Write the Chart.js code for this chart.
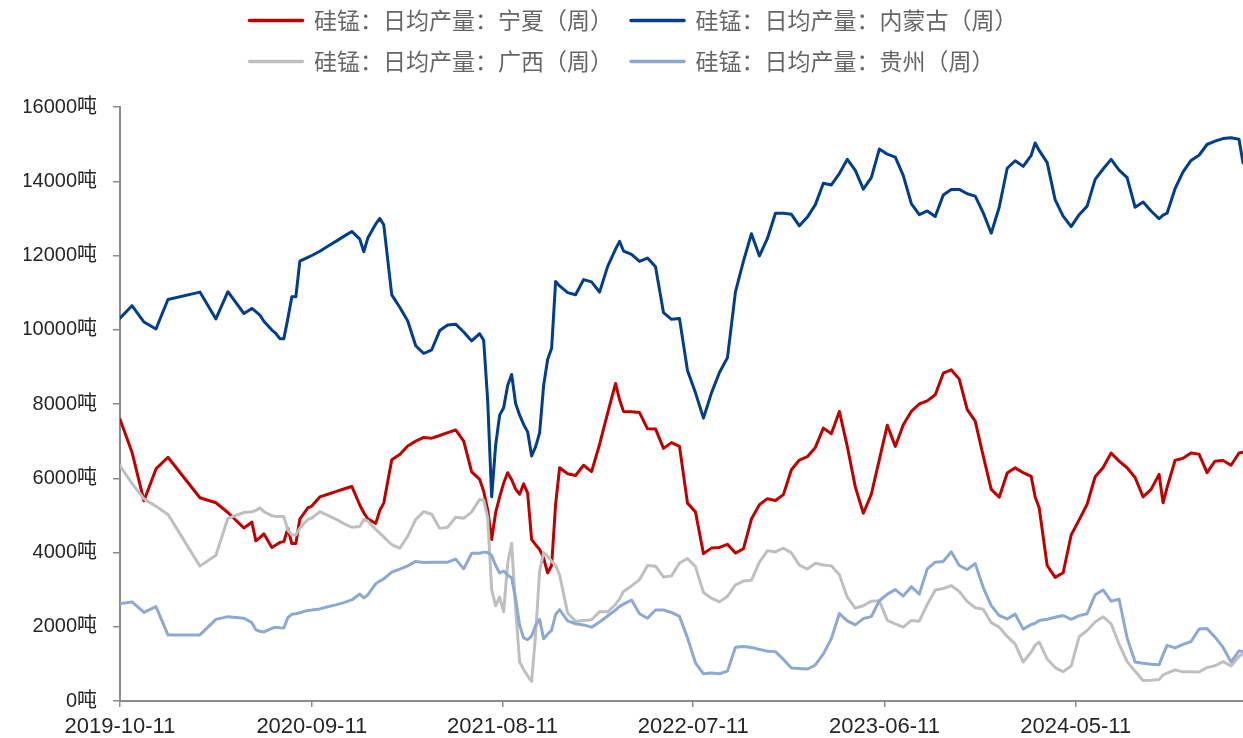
<!DOCTYPE html>
<html>
<head>
<meta charset="utf-8">
<script src="https://cdn.jsdelivr.net/npm/chart.js@4.4.1/dist/chart.umd.min.js"></script>
<style>
html, body { margin: 0; padding: 0; background: #ffffff; }
#wrap { width: 1243px; height: 738px; }
</style>
</head>
<body>
<div id="wrap"><canvas id="c" width="1243" height="738"></canvas></div>
<script>
// ---- names ----
const seriesNames = [
  '硅锰：日均产量：宁夏（周）',
  '硅锰：日均产量：内蒙古（周）',
  '硅锰：日均产量：广西（周）',
  '硅锰：日均产量：贵州（周）'
];

// ---- observation dates ----
const dates = [
  '2019-10-11','2019-11-01','2019-11-22','2019-12-13','2020-01-03','2020-02-28','2020-03-27','2020-04-17','2020-05-15','2020-05-29','2020-06-05','2020-06-12','2020-06-19','2020-07-03','2020-07-10','2020-07-17','2020-07-24','2020-07-31','2020-08-07','2020-08-14','2020-08-21','2020-09-04',
  '2020-09-11','2020-09-25','2020-10-09','2020-10-23','2020-11-06','2020-11-20','2020-12-04','2020-12-11','2020-12-18','2021-01-01','2021-01-08','2021-01-15','2021-01-29','2021-02-12','2021-02-26','2021-03-12','2021-03-26','2021-04-09','2021-04-23','2021-05-07','2021-05-21','2021-06-04','2021-06-18',
  '2021-07-02','2021-07-09','2021-07-16','2021-07-23','2021-07-30','2021-08-06','2021-08-13','2021-08-20','2021-08-27','2021-09-03','2021-09-10','2021-09-17','2021-09-24','2021-10-01','2021-10-08','2021-10-15','2021-10-22','2021-10-29','2021-11-05','2021-11-12','2021-11-19',
  '2021-12-03','2021-12-17','2021-12-31','2022-01-14','2022-01-28','2022-02-11','2022-02-25','2022-03-04',
  '2022-03-11','2022-03-25','2022-04-08','2022-04-22','2022-05-06','2022-05-20','2022-06-03','2022-06-17','2022-07-01','2022-07-15','2022-07-29','2022-08-12','2022-08-26','2022-09-09','2022-09-23','2022-10-07','2022-10-21','2022-11-04','2022-11-18','2022-12-02','2022-12-16','2022-12-30',
  '2023-01-13','2023-01-27','2023-02-10','2023-02-24','2023-03-10','2023-03-24','2023-04-07','2023-04-21','2023-05-05','2023-05-19','2023-06-02','2023-06-16','2023-06-30','2023-07-14','2023-07-28','2023-08-11','2023-08-25','2023-09-08','2023-09-22','2023-10-06','2023-10-20','2023-11-03','2023-11-17','2023-12-01','2023-12-15','2023-12-29',
  '2024-01-12','2024-01-26','2024-02-09','2024-02-23','2024-03-01',
  '2024-03-08','2024-03-22','2024-04-05','2024-04-19','2024-05-03','2024-05-17','2024-05-31','2024-06-14','2024-06-28','2024-07-12','2024-07-26','2024-08-09','2024-08-23','2024-09-06','2024-09-20','2024-10-04',
  '2024-10-11',
  '2024-10-18','2024-11-01','2024-11-15','2024-11-29','2024-12-13','2024-12-27','2025-01-10','2025-01-24','2025-02-07','2025-02-21',
  '2025-02-28'
];

// ---- series values (吨) ----
const ningxia = [
  7591,6701,5392,6251,6565,5476,5340,5078,4659,4816,4314,4400,4502,4136,4200,4272,4293,4650,4240,4240,4900,5200,
  5250,5497,5570,5640,5710,5779,5280,5070,4905,4785,5130,5330,6500,6640,6870,7000,7100,7080,7151,7230,7300,7000,6170,
  5968,5650,5150,4350,5078,5500,5870,6150,5960,5706,5570,5850,5600,4350,4210,4083,3850,3450,3650,5300,6282,
  6120,6073,6350,6180,6910,7750,8554,8114,
  7800,7790,7770,7330,7329,6805,6960,6858,5330,5090,3970,4118,4136,4220,3985,4100,4900,5287,5450,5400,5560,6230,
  6491,6580,6830,7350,7200,7800,6850,5760,5057,5570,6500,7430,6858,7440,7800,8000,8083,8250,8830,8920,8670,7850,7538,6600,5700,5490,
  6140,6280,6150,6050,5497,
  5204,3650,3330,3455,4470,4880,5300,6041,6290,6680,6460,6282,6020,5497,5700,6104,
  5340,
  5750,6480,6540,6680,6650,6150,6460,6480,6350,6680,
  6700
];
const neimenggu = [
  10313,10648,10208,10020,10816,11014,10292,11025,10438,10575,10490,10397,10230,9990,9900,9760,9760,10300,10889,10889,11850,11950,
  12000,12114,12250,12380,12515,12648,12440,12100,12470,12850,13000,12826,10940,10606,10235,9570,9360,9460,9978,10130,10150,9940,9700,
  9894,9716,8100,5500,6900,7700,7900,8500,8795,8010,7700,7450,7250,6600,6850,7224,8500,9200,9500,11300,11180,
  11000,10941,11350,11290,11014,11700,12170,12380,
  12120,12030,11840,11930,11695,10460,10280,10300,8900,8300,7620,8300,8847,9250,11020,11850,12585,11988,12460,13140,13140,13110,
  12800,13035,13370,13946,13900,14208,14590,14292,13789,14100,14867,14730,14650,14150,13400,13100,13200,13050,13630,13780,13780,13663,13600,13150,12600,13300,
  14350,14553,14400,14700,15030,
  14830,14500,13500,13060,12780,13100,13330,14050,14330,14590,14300,14100,13300,13440,13200,12990,
  13090,
  13140,13800,14250,14560,14700,14990,15080,15150,15170,15130,
  14500
];
const guangxi = [
  6334,5863,5444,5245,5026,3633,3926,4921,5078,5100,5130,5204,5100,4990,4973,4973,4973,4600,4471,4471,4659,4890,
  4930,5099,5000,4900,4780,4680,4700,4890,4850,4620,4520,4420,4210,4115,4440,4890,5099,5030,4650,4680,4950,4921,5095,
  5430,5410,4950,3000,2565,2800,2400,3700,4250,2480,1050,850,680,530,1800,3500,4000,3900,3760,3650,3400,
  2370,2150,2170,2190,2408,2400,2600,2750,
  2950,3100,3270,3650,3630,3340,3370,3717,3840,3620,2920,2770,2670,2820,3130,3230,3250,3738,4050,4015,4115,3990,
  3660,3555,3710,3665,3640,3403,2790,2500,2565,2690,2700,2170,2080,1989,2170,2150,2600,2990,3030,3110,2950,2680,2513,2470,2110,1989,
  1740,1530,1050,1320,1500,
  1590,1130,900,790,940,1730,1900,2130,2270,2080,1530,1060,800,555,560,576,
  700,
  750,838,785,785,780,900,950,1060,942,1200,
  1280
];
const guizhou = [
  2618,2670,2387,2544,1780,1780,2199,2272,2230,2110,1916,1880,1860,1958,1989,1975,1968,2250,2335,2350,2377,2440,
  2450,2481,2540,2590,2650,2722,2880,2775,2860,3160,3230,3290,3470,3550,3640,3760,3730,3738,3738,3740,3822,3560,3980,
  3980,4010,4000,3920,3650,3450,3500,3390,3320,2750,2040,1700,1650,1750,2040,2199,1675,1800,1900,2330,2460,
  2160,2080,2050,1989,2130,2290,2450,2550,
  2610,2720,2350,2230,2450,2450,2385,2280,1700,1030,733,756,735,805,1450,1470,1440,1390,1340,1330,1120,890,
  876,860,970,1270,1680,2356,2160,2050,2220,2272,2700,2880,3000,2827,3080,2880,3560,3740,3760,4020,3650,3540,3700,3060,2570,2303,
  2210,2340,1937,2060,2094,
  2170,2200,2255,2303,2200,2300,2350,2860,2990,2690,2740,1700,1050,1015,990,974,
  1250,
  1500,1430,1525,1600,1937,1950,1720,1450,1050,1350,
  1330
];

// ---- axis labels ----
const xTickDates = ['2019-10-11','2020-09-11','2021-08-11','2022-07-11','2023-06-11','2024-05-11'];
const yMin = 0, yMax = 16000, yStep = 2000, yUnit = '吨';

// ---- helpers ----
function dayOf(s) {
  const p = s.split('-').map(Number);
  return Math.round((Date.UTC(p[0], p[1] - 1, p[2]) - Date.UTC(2019, 9, 11)) / 86400000);
}
function points(vals) {
  return dates.map((d, i) => ({ x: dayOf(d), y: vals[i] }));
}

// legend: two items per row, rows sharing a common left edge
const legendRows = {
  id: 'legendRows',
  afterInit(chart) {
    const lg = chart.legend;
    if (!lg || typeof lg._fitRows !== 'function') return;
    const orig = lg._fitRows;
    lg._fitRows = function (...args) {
      const full = this.maxWidth;
      this.maxWidth = 1000;
      const h = orig.apply(this, args);
      this.maxWidth = full;
      if (Array.isArray(this.lineWidths) && this.lineWidths.length) {
        const m = Math.max(...this.lineWidths);
        this.lineWidths = this.lineWidths.map(() => m);
      }
      return h + 24;
    };
  }
};

const axisGray = '#8c8c8c';
const labelColor = '#262626';
const tickFont = "'Liberation Sans', 'Noto Sans CJK SC', sans-serif";

new Chart(document.getElementById('c'), {
  type: 'line',
  data: {
    datasets: [
      { label: seriesNames[0], data: points(ningxia),   borderColor: '#C00000', backgroundColor: '#C00000', order: 3 },
      { label: seriesNames[1], data: points(neimenggu), borderColor: '#023E8A', backgroundColor: '#023E8A', order: 2 },
      { label: seriesNames[2], data: points(guangxi),   borderColor: '#BFBFBF', backgroundColor: '#BFBFBF', order: 1 },
      { label: seriesNames[3], data: points(guizhou),   borderColor: '#8EA9D1', backgroundColor: '#8EA9D1', order: 0 }
    ]
  },
  options: {
    responsive: false,
    animation: false,
    devicePixelRatio: 1,
    elements: {
      point: { radius: 0, hoverRadius: 0 },
      line: { borderWidth: 3, tension: 0, borderJoinStyle: 'round', borderCapStyle: 'round' }
    },
    layout: { padding: { top: -9, left: 24, right: 0, bottom: 0 } },
    plugins: {
      legend: {
        position: 'top',
        align: 'center',
        labels: {
          font: { family: "'Noto Sans CJK SC', sans-serif", size: 23 },
          color: '#666666',
          usePointStyle: true,
          pointStyle: 'line',
          pointStyleWidth: 53,
          padding: 18,
          sort: (a, b) => a.datasetIndex - b.datasetIndex,
          generateLabels: (chart) =>
            Chart.defaults.plugins.legend.labels.generateLabels(chart).map(it =>
              Object.assign(it, { lineWidth: 3.5, lineCap: 'round' }))
        }
      },
      tooltip: { enabled: false }
    },
    scales: {
      x: {
        type: 'linear',
        min: dayOf(dates[0]),
        max: dayOf(dates[dates.length - 1]),
        afterBuildTicks: (s) => { s.ticks = xTickDates.map(d => ({ value: dayOf(d) })); },
        afterFit: (s) => { s.height = 37; },
        ticks: {
          autoSkip: false,
          maxRotation: 0,
          padding: 7,
          color: labelColor,
          font: { family: tickFont, size: 22 },
          callback: (v, i) => xTickDates[i]
        },
        grid: { display: true, drawOnChartArea: false, drawTicks: true, tickLength: 6, color: axisGray, lineWidth: 1.5 },
        border: { display: true, color: axisGray, width: 2 }
      },
      y: {
        min: yMin,
        max: yMax,
        afterFit: (s) => { s.width = 96; },
        ticks: {
          stepSize: yStep,
          padding: 16,
          color: labelColor,
          font: { family: tickFont, size: 20 },
          callback: (v) => v + yUnit
        },
        grid: { display: true, drawOnChartArea: false, drawTicks: true, tickLength: 7, color: axisGray, lineWidth: 1.5 },
        border: { display: true, color: axisGray, width: 2 }
      }
    }
  },
  plugins: [legendRows]
});
</script>
</body>
</html>
